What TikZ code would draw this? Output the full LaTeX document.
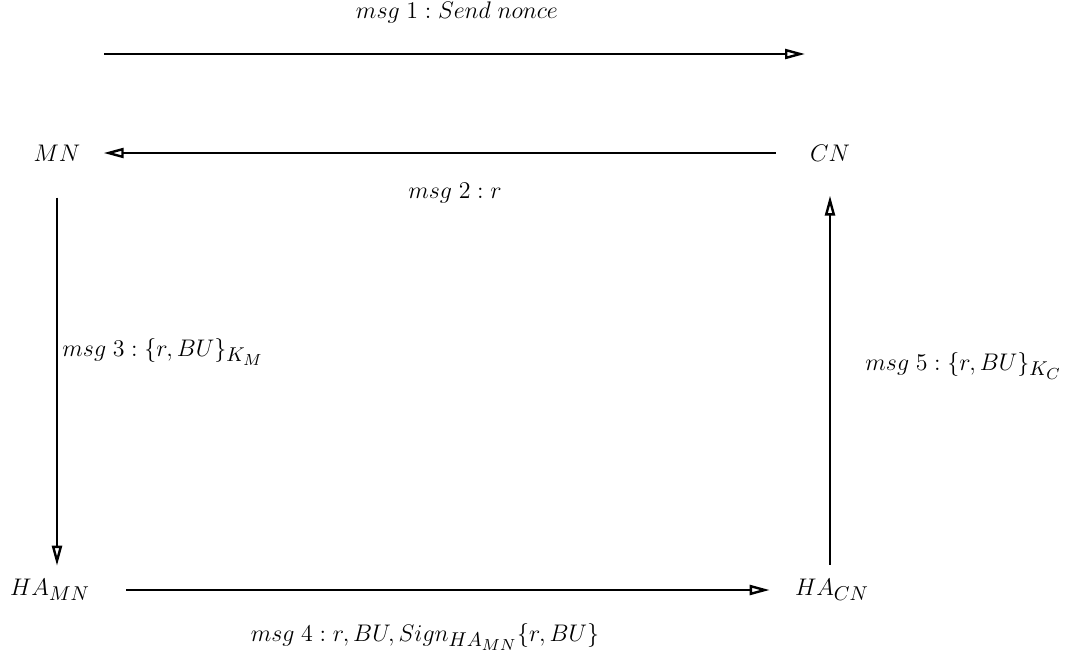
\documentclass[tikz,border=0pt]{standalone}
\usepackage{amsmath,amssymb}
\usetikzlibrary{arrows.meta,positioning}
\DeclareMathSizes{13}{13}{10}{8}

\begin{document}
\begin{tikzpicture}[
  x=0.5pt, y=-0.5pt,
  font=\fontsize{13}{16}\selectfont,
  party/.style={inner sep=0pt},
  msg/.style={-{Triangle[open,length=10pt,width=5pt,line width=1.2pt]}, line width=1.2pt},
  label/.style={inner sep=0pt}
]
  \useasboundingbox (0,0) rectangle (1065,659);
  \node[party] (MN) at (57,153) {$MN$};
  \node[party] (CN) at (830,153) {$CN$};
  \node[party] (HAMN) at (50,590) {$HA_{MN}$};
  \node[party] (HACN) at (832,590) {$HA_{CN}$};
  \coordinate (start1) at (104,54);
  \coordinate (end1) at (805,54);
  \draw[msg] (start1) -- (end1);
  \node[label] (lab1) at (457,12) {$msg\;1 : Send\;nonce$};
  \draw[msg, shorten <=34pt/2, shorten >=23pt/2] (CN.west) -- (MN.east);
  \node[label] (lab2) at (455,193) {$msg\;2 : r$};
  \draw[msg, shorten <=36pt/2, shorten >=13pt/2] (MN.south) -- (MN.south |- HAMN.north);
  \node[label, anchor=west] (lab3) at (62,352) {$msg\;3 : \{r, BU\}_{K_M}$};
  \draw[msg, shorten <=36pt/2, shorten >=25pt/2] (HAMN.east) -- (HACN.west);
  \node[label] (lab4) at (425,637) {$msg\;4 : r, BU, Sign_{HA_{MN}}\{r, BU\}$};
  \draw[msg, shorten <=14pt/2, shorten >=34pt/2] (CN.south |- HACN.north) -- (CN.south);
  \node[label, anchor=west] (lab5) at (865,366) {$msg\;5 : \{r, BU\}_{K_C}$};
\end{tikzpicture}
\end{document}
